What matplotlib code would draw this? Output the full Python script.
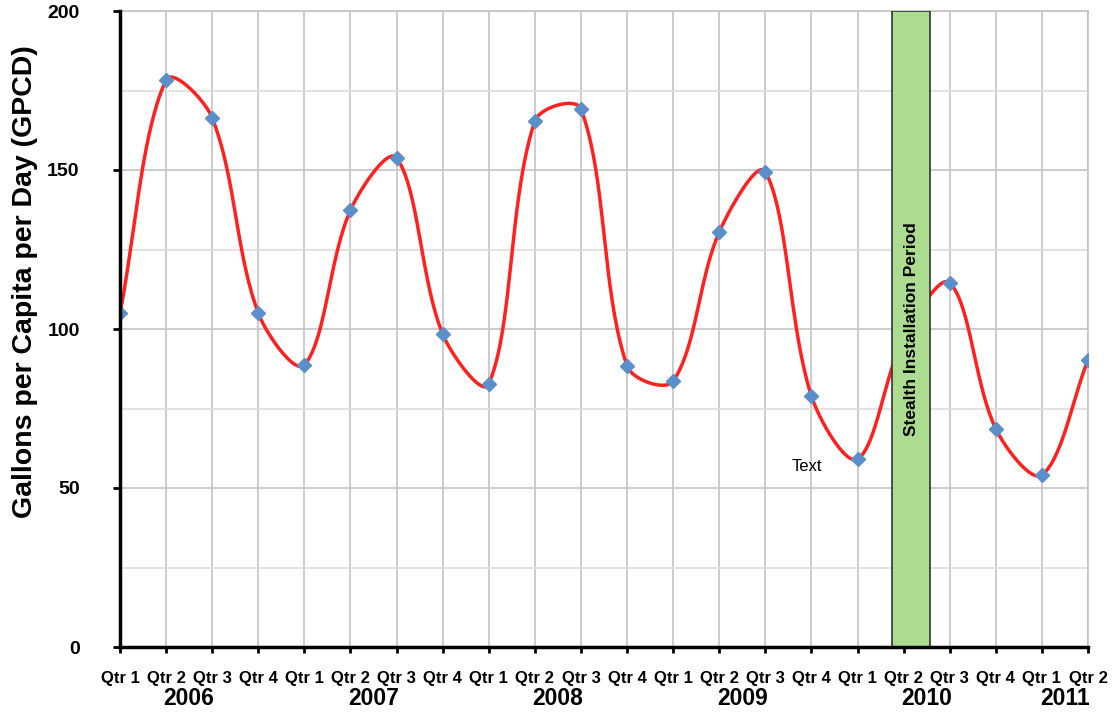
import numpy as np
import matplotlib.pyplot as plt
import matplotlib.transforms as mtransforms

plt.rcParams['font.family'] = ['Liberation Sans', 'DejaVu Sans']

quarters = ['Qtr 1', 'Qtr 2', 'Qtr 3', 'Qtr 4'] * 5 + ['Qtr 1', 'Qtr 2']
years = ['2006', '2007', '2008', '2009', '2010', '2011']
year_spans = [(0, 3), (4, 7), (8, 11), (12, 15), (16, 19), (20, 21)]
gpcd = [105, 178.3, 166.4, 105, 88.7, 137.4, 153.8, 98.4,
        82.7, 165.4, 169.2, 88.4, 83.6, 130.5, 149.4, 78.9,
        59.1, 97, 114.5, 68.6, 54.1, 90.3]
install_period = (16.75, 17.58)
install_label = 'Stealth Installation Period'
note_xy = (14.91, 56.9)

XPX, YPX = 46.0, 3.18   # screen pixels per unit, used for the smoothing


def smooth(x, y, n=40):
    # excel-like smoothed line: bezier segments, tangents scaled by chord length
    px = np.asarray(x, float) * XPX
    py = np.asarray(y, float) * YPX
    d = np.hypot(np.diff(px), np.diff(py))
    m = len(px)
    outx, outy = [], []
    for i in range(m - 1):
        i0 = max(i - 1, 0)
        i3 = min(i + 2, m - 1)
        dp = d[i - 1] if i > 0 else 0.0
        dn = d[i + 1] if i + 2 < m else 0.0
        f1 = d[i] / (dp + d[i]) / 3
        f2 = d[i] / (d[i] + dn) / 3
        c1x = px[i] + (px[i + 1] - px[i0]) * f1
        c1y = py[i] + (py[i + 1] - py[i0]) * f1
        c2x = px[i + 1] - (px[i3] - px[i]) * f2
        c2y = py[i + 1] - (py[i3] - py[i]) * f2
        t = np.linspace(0, 1, n)
        bx = (1-t)**3*px[i] + 3*(1-t)**2*t*c1x + 3*(1-t)*t**2*c2x + t**3*px[i+1]
        by = (1-t)**3*py[i] + 3*(1-t)**2*t*c1y + 3*(1-t)*t**2*c2y + t**3*py[i+1]
        outx.extend(bx)
        outy.extend(by)
    return np.array(outx) / XPX, np.array(outy) / YPX


fig = plt.figure(figsize=(11.14, 7.15), dpi=100)
ax = fig.add_axes([120/1114, 1 - 647/715, (1088-120)/1114, (647-11)/715])

x = np.arange(len(gpcd))
sx, sy = smooth(x, gpcd)
ax.plot(sx, sy, color='#ff2020', lw=2.5, zorder=3)
ax.plot(x, gpcd, ls='none', marker='D', ms=7, color='#5b8fc9', zorder=4)

mid = (install_period[0] + install_period[1]) / 2
ax.bar(mid, 200, width=install_period[1] - install_period[0],
       color='#abdc8f', edgecolor='#333333', lw=1.2, zorder=5)
ax.text(mid, 100, install_label, rotation=90, ha='center', va='center',
        fontsize=12.5, fontweight='bold', zorder=6)
ax.text(note_xy[0], note_xy[1], 'Text', ha='center', va='center', fontsize=12)

ax.set_xlim(0, 21)
ax.set_ylim(0, 200)
ax.set_yticks([0, 50, 100, 150, 200])
ax.set_yticks(np.arange(25, 200, 50), minor=True)
ax.set_xticks(x)
ax.set_xticklabels(quarters, fontsize=12, fontweight='bold')
for lab in ax.get_yticklabels():
    lab.set_fontweight('bold')
    lab.set_fontsize(14)
ax.tick_params(axis='y', which='major', length=5, width=2, direction='out', pad=24)
ax.tick_params(axis='y', which='minor', length=0)
ax.tick_params(axis='x', length=4, width=2, direction='out', pad=13)

ax.grid(True, which='major', color='#c4c4c4', lw=1.2)
ax.grid(True, which='minor', axis='y', color='#dddddd', lw=1.2)
ax.set_axisbelow(True)
for s in ['top', 'right']:
    ax.spines[s].set_color('#c4c4c4')
    ax.spines[s].set_linewidth(1.2)
for s in ['left', 'bottom']:
    ax.spines[s].set_linewidth(2.5)
    ax.spines[s].set_zorder(7)

trans = mtransforms.blended_transform_factory(ax.transData, ax.transAxes)
for yr, (a, b) in zip(years, year_spans):
    ax.text((a + b) / 2, -0.081, yr, transform=trans, ha='center', va='center',
            fontsize=16.5, fontweight='bold')

ax.set_ylabel('Gallons per Capita per Day (GPCD)', fontsize=20.5,
              fontweight='bold')
ax.yaxis.set_label_coords(-0.085, 0.575)

fig.savefig('out.png', dpi=100)
